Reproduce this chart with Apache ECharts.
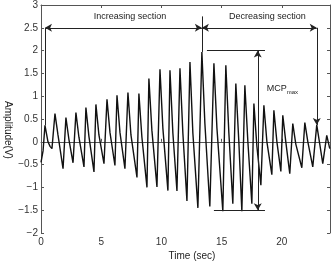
<!doctype html>
<html>
<head>
  <meta charset="utf-8">
  <script src="https://cdn.jsdelivr.net/npm/echarts@6/dist/echarts.min.js"></script>
  <style>
    html, body { margin: 0; padding: 0; background: #fff; }
  </style>
</head>
<body>
  <div id="main" style="width:334px;height:262px;"></div>
  <script>
  // waveform vertices (trough, peak, knee on the way down)
  var timeSec = [
    0.00, 0.17, 0.33, 0.58, 0.75, 0.91, 1.16, 1.41, 1.83, 2.07, 2.32, 2.66, 2.90, 3.15, 3.57,
    3.73, 3.98, 4.40, 4.56, 4.81, 5.23, 5.48, 5.73, 6.14, 6.31, 6.56, 6.97, 7.22, 7.47, 7.97,
    8.13, 8.38, 8.80, 8.96, 9.21, 9.63, 9.88, 10.12, 10.54, 10.71, 10.95, 11.29, 11.54, 11.78,
    12.12, 12.37, 12.61, 13.03, 13.36, 13.61, 14.02, 14.36, 14.61, 15.10, 15.35, 15.60, 15.93,
    16.18, 16.43, 16.68, 16.93, 17.18, 17.51, 17.68, 17.93, 18.26, 18.51, 18.76, 19.17, 19.34,
    19.59, 19.92, 20.08, 20.33, 20.66, 20.91, 21.16, 21.66, 21.91, 22.16, 22.57, 22.90, 23.15,
    23.40, 23.73, 23.98
  ];
  var amplitude = [
    -0.45, -0.20, 0.36, 0.00, -0.10, -0.15, 0.62, 0.15, -0.59, 0.53, 0.05, -0.46, 0.64, 0.10, -0.55,
    0.75, 0.12, -0.66, 0.82, 0.15, -0.48, 0.93, 0.20, -0.52, 1.02, 0.20, -0.59, 1.08, 0.15, -0.78,
    1.06, 0.10, -1.00, 1.39, 0.25, -0.99, 1.59, 0.30, -1.07, 1.57, 0.20, -1.08, 1.61, 0.20,
    -1.30, 1.75, 0.20, -1.45, 1.97, 0.40, -1.42, 1.72, 0.30, -1.52, 1.68, 0.20, -1.36,
    1.28, 0.00, -1.52, 1.24, 0.00, -1.36, 0.84, -0.10, -0.95, 0.80, 0.00, -0.72, 0.69,
    0.00, -0.65, 0.58, 0.00, -0.70, 0.40, -0.05, -0.57, 0.42, 0.00, -0.55, 0.37, -0.05,
    -0.48, 0.14, -0.15
  ];

  var xTicks = [0, 5, 10, 15, 20];
  var yTicks = [-2, -1.5, -1, -0.5, 0, 0.5, 1, 1.5, 2, 2.5, 3];

  // annotation segments in data units: [x1, y1, x2, y2, arrowAtStart, arrowAtEnd]
  var annoLines = [
    [0.33, 2.5, 13.36, 2.5, 1, 1],
    [13.36, 2.5, 22.90, 2.5, 1, 1],
    [0.33, 2.5, 0.33, 0.36, 0, 0],
    [13.36, 2.75, 13.36, 1.97, 0, 0],
    [22.90, 2.5, 22.90, 0.37, 0, 1],
    [13.78, 2.0, 18.6, 2.0, 0, 0],
    [14.36, -1.5, 18.6, -1.5, 0, 0],
    [18.0, 2.0, 18.0, -1.5, 1, 1]
  ];
  var annoTexts = [
    ['Increasing section', 7.4, 2.74],
    ['Decreasing section', 18.8, 2.74]
  ];
  var mcpPos = [18.75, 1.17];

  var waveData = [];
  for (var i = 0; i < timeSec.length; i++) {
    waveData.push([timeSec[i], amplitude[i]]);
  }

  var markData = annoLines.map(function (l) {
    return [
      { coord: [l[0], l[1]], symbol: l[4] ? 'arrow' : 'none' },
      { coord: [l[2], l[3]], symbol: l[5] ? 'arrow' : 'none' }
    ];
  });

  var axisColor = '#555';
  var font = 'Liberation Sans';
  function minus(v) { return String(v).replace('-', '\u2212'); }

  var myChart = echarts.init(document.getElementById('main'));
  var option = {
    animation: false,
    grid: { left: 41, right: 4, top: 5, bottom: 29, containLabel: false },
    xAxis: [{
      type: 'value', min: 0, max: 24, interval: 5,
      axisLine: { lineStyle: { color: axisColor, width: 1 } },
      axisTick: { inside: true, length: 3, lineStyle: { color: axisColor } },
      axisLabel: {
        color: '#333', fontFamily: font, fontSize: 10, margin: 4, showMaxLabel: false,
        formatter: function (v) { return xTicks.indexOf(v) >= 0 ? v : ''; }
      },
      splitLine: { show: false }
    }, {
      type: 'value', min: 0, max: 24, interval: 5, position: 'top',
      axisLine: { onZero: false, lineStyle: { color: axisColor, width: 1 } },
      axisTick: { inside: true, length: 3, lineStyle: { color: axisColor } },
      axisLabel: { show: false },
      splitLine: { show: false }
    }],
    yAxis: [{
      type: 'value', min: -2, max: 3, interval: 0.5,
      axisLine: { show: true, onZero: false, lineStyle: { color: axisColor, width: 1 } },
      axisTick: { show: true, inside: true, length: 3, lineStyle: { color: axisColor } },
      axisLabel: {
        color: '#333', fontFamily: font, fontSize: 10, margin: 3,
        formatter: function (v) { return yTicks.indexOf(v) >= 0 ? minus(v) : ''; }
      },
      splitLine: { show: false }
    }, {
      type: 'value', min: -2, max: 3, interval: 0.5, position: 'right',
      axisLine: { show: true, onZero: false, lineStyle: { color: axisColor, width: 1 } },
      axisTick: { show: true, inside: true, length: 3, lineStyle: { color: axisColor } },
      axisLabel: { show: false },
      splitLine: { show: false }
    }],
    series: [{
      type: 'line',
      xAxisIndex: 0,
      yAxisIndex: 0,
      data: waveData,
      symbol: 'none',
      lineStyle: { color: '#111', width: 1.4 },
      markLine: {
        silent: true,
        animation: false,
        symbolSize: [6, 7],
        label: { show: false },
        lineStyle: { color: '#222', width: 1, type: 'solid' },
        emphasis: { disabled: true },
        data: markData
      }
    }]
  };
  myChart.setOption(option);

  var graphics = annoTexts.map(function (t) {
    var p = myChart.convertToPixel({ gridIndex: 0 }, [t[1], t[2]]);
    return {
      type: 'text', x: p[0], y: p[1],
      style: { text: t[0], fill: '#222', font: '9px "' + font + '"', align: 'center', verticalAlign: 'middle' }
    };
  });
  var mp = myChart.convertToPixel({ gridIndex: 0 }, mcpPos);
  graphics.push({
    type: 'text', x: mp[0], y: mp[1],
    style: {
      text: '{a|MCP}{b|max}',
      align: 'left', verticalAlign: 'middle',
      rich: {
        a: { fontFamily: font, fontSize: 9, fill: '#222', verticalAlign: 'bottom' },
        b: { fontFamily: font, fontSize: 6, fill: '#222', verticalAlign: 'bottom', padding: [0, 0, -2, 0] }
      }
    }
  });
  graphics.push({
    type: 'text', x: 192, y: 256,
    style: { text: 'Time (sec)', fill: '#222', font: '10px "' + font + '"', align: 'center', verticalAlign: 'middle' }
  });
  graphics.push({
    type: 'text', x: 8, y: 130, rotation: -Math.PI / 2,
    style: { text: 'Amplitude(V)', fill: '#222', font: '10px "' + font + '"', align: 'center', verticalAlign: 'middle' }
  });
  myChart.setOption({ graphic: graphics });
  </script>
</body>
</html>
